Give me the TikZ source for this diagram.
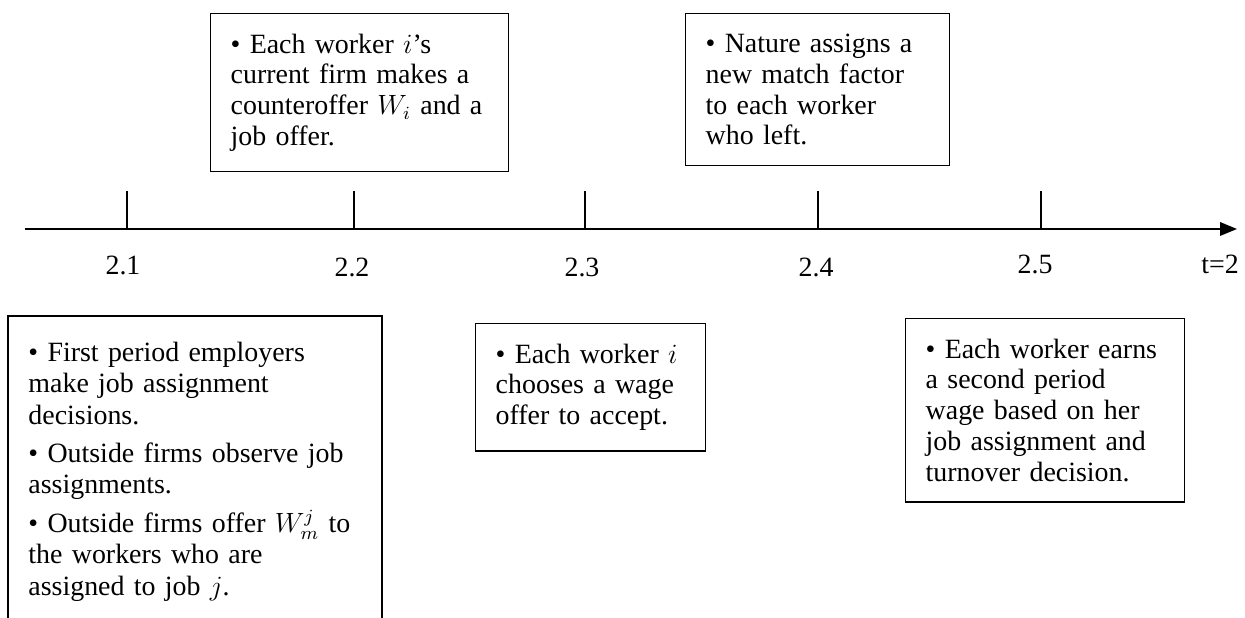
\documentclass[tikz,border=0pt]{standalone}
\usepackage{fontspec}
\setmainfont{Liberation Serif}
\usepackage{amsmath}
\usepackage{tikz}
\usetikzlibrary{arrows.meta}

\begin{document}
\begin{tikzpicture}[x = 0.43pt, y = -0.43pt]
% Node styles ---
\tikzstyle{box} = [rectangle, draw = black, line width = 0.6pt, anchor = north west, align = left, inner xsep = 8.6pt, inner ysep = 8.6pt, font = \fontsize{12}{13.3}\selectfont] % Event boxes
\tikzstyle{txt} = [rectangle, anchor = north west, align = left, inner xsep = 8.6pt, inner ysep = 11pt, font = \fontsize{12}{13.5}\selectfont] % Text of the open box
\tikzstyle{lab} = [anchor = base, inner sep = 0pt, font = \fontsize{12}{13.3}\selectfont] % Time labels
% Edge styles
\tikzstyle{tline} = [-{Triangle[length = 7.3pt, width = 5.8pt]}, line width = 0.8pt] % Time axis
\tikzstyle{tmark} = [line width = 0.8pt] % Ticks
\tikzstyle{bside} = [line width = 0.6pt] % Sides of the open box
% Begin Figure ---
\useasboundingbox (0,0) rectangle (1245,618);
% Axis
\coordinate (t0) at (25,229);
\coordinate (t1) at (1237,229);
\draw [tline] (t0) -- (t1);
% Ticks
\coordinate (p21) at (127,229);
\coordinate (p22) at (354,229);
\coordinate (p23) at (585,229);
\coordinate (p24) at (818,229);
\coordinate (p25) at (1041,229);
\draw [tmark] (p21) -- ++(0,-38);
\draw [tmark] (p22) -- ++(0,-38);
\draw [tmark] (p23) -- ++(0,-38);
\draw [tmark] (p24) -- ++(0,-38);
\draw [tmark] (p25) -- ++(0,-38);
% Labels
\node at (123,275) [lab] (l21) {2.1};
\node at (352,277) [lab] (l22) {2.2};
\node at (582,277) [lab] (l23) {2.3};
\node at (816,277) [lab] (l24) {2.4};
\node at (1035,274) [lab] (l25) {2.5};
\node at (1220,274) [lab] (lt) {t=2};
% Boxes above the axis
\node at (210,13) [box, text width = 110.9pt] (b22) {• Each worker $i$’s\\ current firm makes a\\ counteroffer $W_i$ and a\\ job offer.};
\node at (685,13) [box, text width = 96.3pt] (b24) {• Nature assigns a\\ new match factor\\ to each worker\\ who left.};
% Boxes below the axis
\coordinate (o1) at (8,618);
\coordinate (o2) at (8,316);
\coordinate (o3) at (382,316);
\coordinate (o4) at (382,618);
\draw [bside] (o1) -- (o2) -- (o3) -- (o4);
\node at (o2) [txt, text width = 143.6pt] (b21) {• First period employers\\ make job assignment\\ decisions.\\[3pt] • Outside firms observe job\\ assignments.\\[3pt] • Outside firms offer $W_m^j$ to\\ the workers who are\\ assigned to job $j$.};
\node at (475,323) [box, text width = 81.7pt] (b23) {• Each worker $i$\\ chooses a wage\\ offer to accept.};
\node at (905,318) [box, text width = 102.8pt] (b25) {• Each worker earns\\ a second period\\ wage based on her\\ job assignment and\\ turnover decision.};
\end{tikzpicture}
\end{document}
